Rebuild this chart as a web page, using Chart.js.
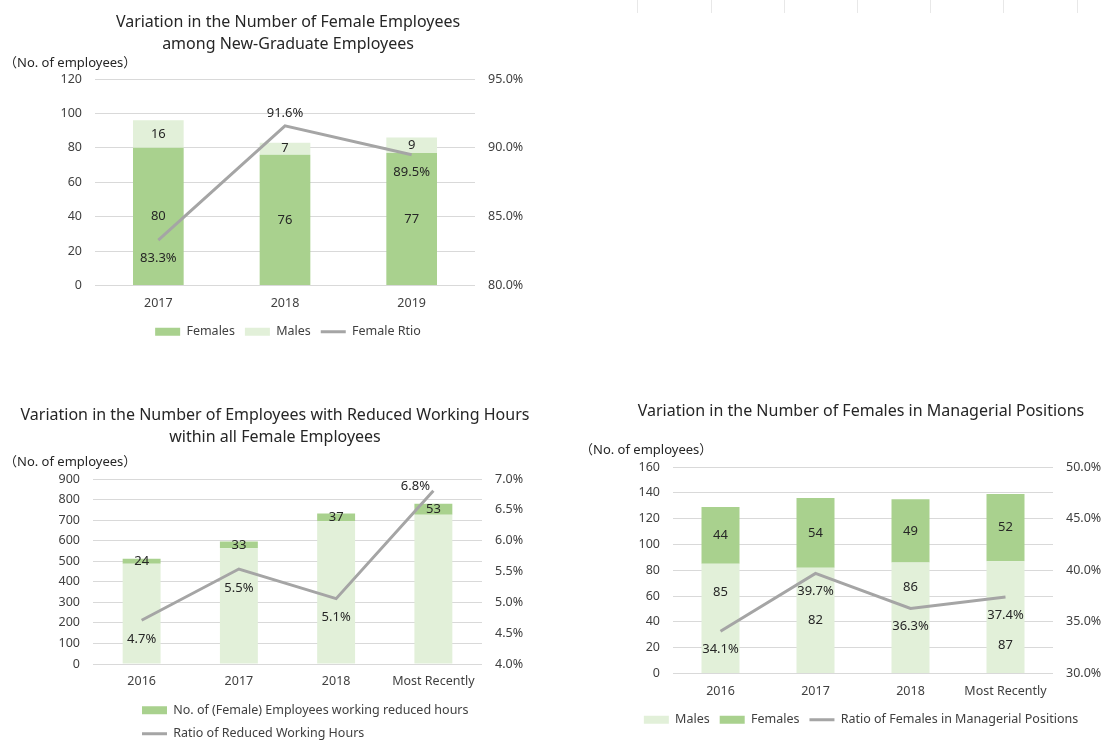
<!DOCTYPE html>
<html>
<head>
<meta charset="utf-8">
<script src="https://cdn.jsdelivr.net/npm/chart.js@4.4.0/dist/chart.umd.min.js"></script>
<style>
  body { margin: 0; width: 1120px; height: 751px; background: #fff; position: relative; overflow: hidden;
         font-family: "Noto Sans", "Noto Sans CJK JP", sans-serif; }
  .box { position: absolute; }
  .box canvas { display: block; }
  .unit { position: absolute; font-size: 13px; line-height: 16px; color: #262626; white-space: nowrap; }
  .cell { position: absolute; top: 0; height: 13px; border-left: 1px solid #e8e8e8; }
</style>
</head>
<body>
<div class="box" style="left:0px;top:0px"><canvas id="grad" width="576" height="350"></canvas></div>
<div class="box" style="left:0px;top:390px"><canvas id="short" width="550" height="361"></canvas></div>
<div class="box" style="left:602px;top:390px"><canvas id="mgr" width="518" height="361"></canvas></div>
<div class="unit" style="left:4px;top:54px">（No. of employees）</div>
<div class="unit" style="left:4px;top:453px">（No. of employees）</div>
<div class="unit" style="left:580px;top:441px">（No. of employees）</div>
<script>
// new graduates
const gradYears = ['2017', '2018', '2019'];
const gradFemales = [80, 76, 77];
const gradMales = [16, 7, 9];
const gradRatio = [83.3, 91.6, 89.5];

// reduced working hours
const shortYears = ['2016', '2017', '2018', 'Most Recently'];
const shortOthers = [488, 563, 695, 726];
const shortReduced = [24, 33, 37, 53];
const shortRatio = [4.71, 5.54, 5.06, 6.81];

// managerial positions
const mgrYears = ['2016', '2017', '2018', 'Most Recently'];
const mgrMales = [85, 82, 86, 87];
const mgrFemales = [44, 54, 49, 52];
const mgrRatio = [34.1, 39.7, 36.3, 37.4];

const DARK = '#a9d18e', LIGHT = '#e2f0d9', GREY = '#a5a5a5';

// spreadsheet cell edges peeking in at the top right
[637, 711, 784, 857, 930, 1003, 1077].forEach(x => {
  const d = document.createElement('div');
  d.className = 'cell';
  d.style.left = x + 'px';
  document.body.appendChild(d);
});

Chart.defaults.font.family = '"Noto Sans", sans-serif';
Chart.defaults.font.size = 12.5;
Chart.defaults.color = '#404040';

// numbers inside bar segments and next to line points
const valueLabels = {
  id: 'valueLabels',
  afterDatasetsDraw(chart, args, opts) {
    const ctx = chart.ctx;
    ctx.save();
    ctx.font = '13px "Noto Sans"';
    ctx.fillStyle = '#262626';
    ctx.textAlign = 'center';
    ctx.textBaseline = 'middle';
    chart.data.datasets.forEach((ds, i) => {
      const meta = chart.getDatasetMeta(i);
      if (ds.type === 'line') {
        meta.data.forEach((pt, j) => {
          const [dx, dy] = opts.lineOffsets[j];
          ctx.fillText(ds.data[j].toFixed(1) + '%', pt.x + dx, pt.y + dy);
        });
      } else if (ds.label !== '') {
        const shift = (opts.barShift || {})[i] || [];
        meta.data.forEach((bar, j) => {
          ctx.fillText(ds.data[j], bar.x, (bar.y + bar.base) / 2 + (shift[j] || 0));
        });
      }
    });
    ctx.restore();
  }
};

// lets a wrapped legend start at a fixed x
const legendShift = {
  id: 'legendShift',
  afterLayout(chart, args, opts) {
    if (opts.left == null) return;
    const w = chart.legend.width;
    chart.legend.left = opts.left;
    chart.legend.right = opts.left + w;
  }
};

function bar(label, data, color) {
  return { label, data, backgroundColor: color, borderWidth: 0, order: 1, pointStyle: 'rect' };
}
function ratioLine(label, data) {
  return { type: 'line', label, data, yAxisID: 'y1', borderColor: GREY, backgroundColor: GREY,
           borderWidth: 3, pointRadius: 0, order: 0, pointStyle: 'line', fill: false };
}

function comboChart(id, o) {
  return new Chart(document.getElementById(id), {
    type: 'bar',
    data: { labels: o.labels, datasets: o.datasets },
    options: {
      responsive: false,
      animation: false,
      devicePixelRatio: 1,
      layout: { padding: { left: 0, right: 0, top: 0, bottom: o.padBottom } },
      datasets: { bar: { categoryPercentage: 1, barPercentage: o.barPct } },
      scales: {
        x: {
          stacked: true,
          grid: { display: false, drawTicks: false }, border: { display: false },
          ticks: { padding: 10 },
          afterFit: s => { s.height = o.xHeight; }
        },
        y: {
          stacked: true, min: 0, max: o.yMax,
          ticks: { stepSize: o.yStep, padding: 13 },
          grid: { color: '#d9d9d9', drawTicks: false }, border: { display: false },
          afterFit: s => { s.width = o.yWidth; }
        },
        y1: {
          position: 'right', min: o.rMin, max: o.rMax,
          ticks: { stepSize: o.rStep, padding: 13, callback: v => v.toFixed(1) + '%' },
          grid: { display: false, drawTicks: false }, border: { display: false },
          afterFit: s => { s.width = o.rWidth; }
        }
      },
      plugins: {
        title: {
          display: true, text: o.title, color: '#262626',
          font: { size: 16, weight: 'normal', lineHeight: 1.375 },
          padding: { top: o.titleTop, bottom: o.titleBottom }
        },
        legend: {
          position: 'bottom', fullSize: o.legendFull !== false, align: o.legendAlign || 'center',
          labels: {
            usePointStyle: true, pointStyleWidth: 25, boxHeight: 8, padding: o.legendPad,
            filter: item => item.text !== '',
            sort: (a, b) => a.datasetIndex - b.datasetIndex
          }
        },
        tooltip: { enabled: false },
        valueLabels: { lineOffsets: o.lineOffsets, barShift: o.barShift },
        legendShift: { left: o.legendLeft }
      }
    },
    plugins: [valueLabels, legendShift]
  });
}

comboChart('grad', {
  title: ['Variation in the Number of Female Employees', 'among New-Graduate Employees'],
  labels: gradYears,
  datasets: [bar('Females', gradFemales, DARK), bar('Males', gradMales, LIGHT), ratioLine('Female Rtio', gradRatio)],
  yMax: 120, yStep: 20, rMin: 80, rMax: 95, rStep: 5,
  titleTop: 11, titleBottom: 24, xHeight: 30, legendPad: 10, padBottom: 2,
  yWidth: 95, rWidth: 101, barPct: 0.40,
  lineOffsets: [[0, 18], [0, -13], [0, 18]]
});

comboChart('short', {
  title: ['Variation in the Number of Employees with Reduced Working Hours', 'within all Female Employees'],
  labels: shortYears,
  datasets: [bar('', shortOthers, LIGHT), bar('No. of (Female) Employees working reduced hours', shortReduced, DARK),
             ratioLine('Ratio of Reduced Working Hours', shortRatio)],
  yMax: 900, yStep: 100, rMin: 4, rMax: 7, rStep: 0.5,
  titleTop: 14, titleBottom: 31, xHeight: 29, legendPad: 11, padBottom: 1,
  legendFull: false, legendAlign: 'start', legendLeft: 131,
  yWidth: 93, rWidth: 68, barPct: 0.39,
  lineOffsets: [[0, 19], [0, 19], [0, 19], [-18, -4]]
});

comboChart('mgr', {
  title: 'Variation in the Number of Females in Managerial Positions',
  labels: mgrYears,
  datasets: [bar('Males', mgrMales, LIGHT), bar('Females', mgrFemales, DARK),
             ratioLine('Ratio of Females in Managerial Positions', mgrRatio)],
  yMax: 160, yStep: 20, rMin: 30, rMax: 50, rStep: 5,
  titleTop: 10, titleBottom: 45, xHeight: 30, legendPad: 10, padBottom: 15,
  yWidth: 71, rWidth: 67, barPct: 0.40,
  lineOffsets: [[0, 18], [0, 18], [0, 18], [0, 18]],
  barShift: { 0: [-26, 0, -30, 28] }
});
</script>
</body>
</html>
